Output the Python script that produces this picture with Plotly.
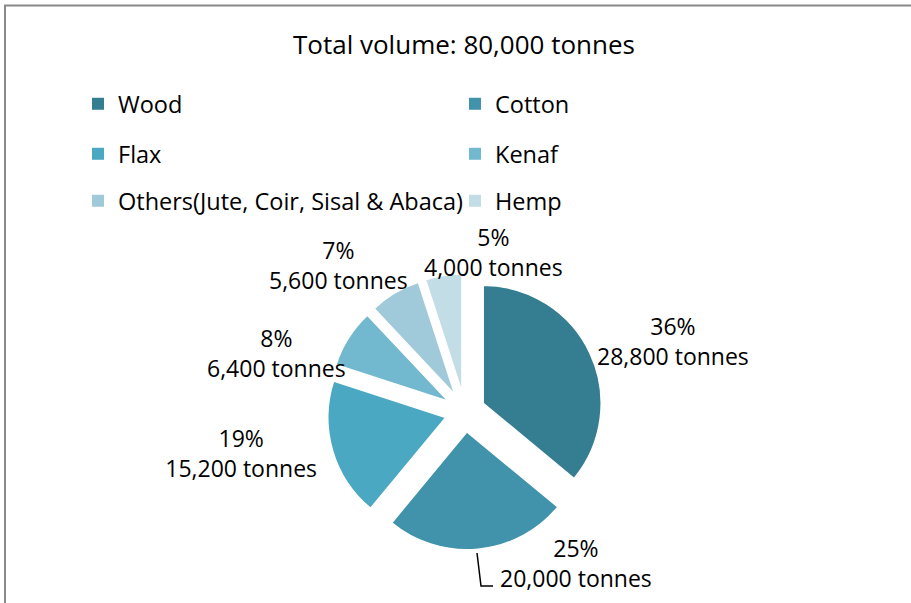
import plotly.graph_objects as go

categories = ["Wood", "Cotton", "Flax", "Kenaf", "Others(Jute, Coir, Sisal & Abaca)", "Hemp"]
tonnes = [28800, 20000, 15200, 6400, 5600, 4000]
colors = ["#357E91", "#4193AB", "#4AA8C3", "#72B8CF", "#A0C9D9", "#C3DDE6"]
title_text = "Total volume: 80,000 tonnes"

W, H = 911, 603
FONT = "'Open Sans', 'Noto Sans', sans-serif"
total = sum(tonnes)


def label_text(v):
    return f"{round(v / total * 100)}%<br>{v:,} tonnes"


# Slices whose labels are placed where the original puts them (best-fit), instead of radially
side_labels = {
    "Wood": (673, 341),
    "Cotton": (576, 563),
    "Kenaf": (276, 353),
    "Others(Jute, Coir, Sisal & Abaca)": (338, 265),
    "Hemp": (493, 252),
}

fig = go.Figure()

fig.add_trace(go.Pie(
    labels=categories,
    values=tonnes,
    sort=False,
    direction="clockwise",
    rotation=0,
    pull=0.17,
    marker=dict(colors=colors, line=dict(color="white", width=1.5)),
    texttemplate="%{percent}<br>%{value:,} tonnes",
    textposition=["none" if c in side_labels else "outside" for c in categories],
    textfont=dict(family=FONT, size=23, color="black"),
    showlegend=False,
    hoverinfo="label+value+percent",
    domain=dict(x=[0.359, 0.662], y=[0.088, 0.546]),
))

# legend rows (two entries per row)
legend_names = ["legend", "legend2", "legend3"]
for i, (cat, col) in enumerate(zip(categories, colors)):
    fig.add_trace(go.Scatter(
        x=[None], y=[None], mode="markers",
        marker=dict(symbol="square", size=12, color=col),
        name=cat, legend=legend_names[i // 2], hoverinfo="skip",
    ))

row_y = [1 - 104 / H, 1 - 154 / H, 1 - 201 / H]
legend_common = dict(
    orientation="h", x=78 / W, xanchor="left", yanchor="middle",
    entrywidth=332, entrywidthmode="pixels",
    font=dict(family=FONT, size=23.5, color="black"),
    bgcolor="rgba(0,0,0,0)", itemclick=False, itemdoubleclick=False,
)

annotations = []
for c, v in zip(categories, tonnes):
    if c in side_labels:
        px, py = side_labels[c]
        annotations.append(dict(
            text=label_text(v), xref="paper", yref="paper",
            x=px / W, y=1 - py / H, xanchor="center", yanchor="middle",
            showarrow=False, align="center",
            font=dict(family=FONT, size=23, color="black"),
        ))

# leader line of the Cotton label
leader = "M {:.4f},{:.4f} L {:.4f},{:.4f} L {:.4f},{:.4f}".format(
    477 / W, 1 - 553 / H, 481 / W, 1 - 586 / H, 493 / W, 1 - 586 / H)

fig.update_layout(
    width=W, height=H,
    margin=dict(l=0, r=0, t=0, b=0, autoexpand=False),
    paper_bgcolor="white", plot_bgcolor="white",
    title=dict(text=title_text, x=464 / W, xanchor="center", y=1 - 45 / H, yanchor="middle",
               font=dict(family=FONT, size=26, color="black")),
    xaxis=dict(visible=False), yaxis=dict(visible=False),
    legend=dict(y=row_y[0], **legend_common),
    legend2=dict(y=row_y[1], **legend_common),
    legend3=dict(y=row_y[2], **legend_common),
    annotations=annotations,
    shapes=[
        dict(type="rect", xref="paper", yref="paper",
             x0=5 / W, x1=1.05, y0=-0.05, y1=1 - 5.5 / H,
             line=dict(color="#898989", width=2), fillcolor="rgba(0,0,0,0)", layer="below"),
        dict(type="path", xref="paper", yref="paper", path=leader,
             line=dict(color="black", width=1.5)),
    ],
)

fig.write_html("out.html")
